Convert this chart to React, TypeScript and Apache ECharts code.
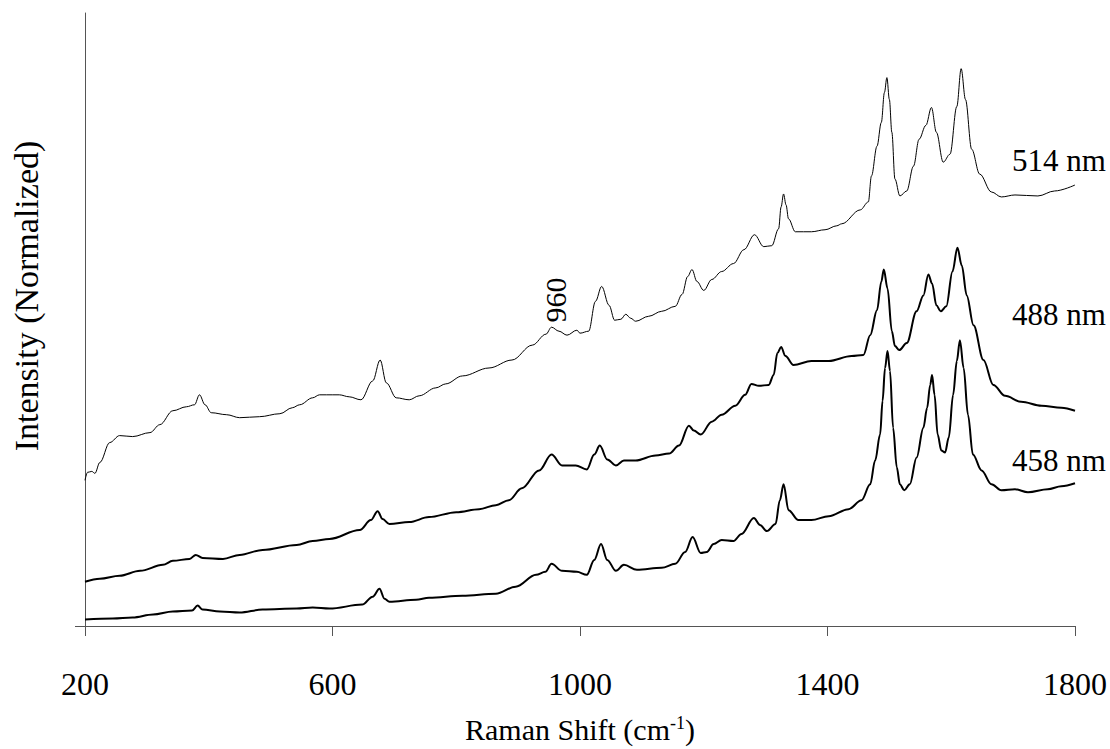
import React, { useEffect, useRef } from "react";
import * as echarts from "echarts";

// Raman shift (cm-1) and normalized intensity (arbitrary units)
const shift514 = [200, 204, 211, 216, 224, 240, 256, 277, 305, 321, 342, 364, 377, 385, 394, 404, 429, 450, 482, 515, 535, 547, 568, 579, 590, 611, 627, 646, 665, 677, 687, 703, 724, 740, 767, 783, 810, 853, 890, 923, 945, 954, 966, 979, 995, 1000, 1014, 1025, 1035, 1047, 1056, 1066, 1074, 1082, 1090, 1111, 1132, 1154, 1165, 1174, 1181, 1189, 1200, 1213, 1229, 1248, 1265, 1282, 1297, 1310, 1321, 1325, 1329, 1333, 1337, 1348, 1374, 1396, 1415, 1423, 1453, 1466, 1471, 1480, 1487, 1492, 1496, 1500, 1504, 1509, 1517, 1528, 1539, 1548, 1559, 1568, 1576, 1587, 1598, 1609, 1616, 1623, 1633, 1646, 1665, 1681, 1703, 1740, 1767, 1800];
const int514 = [145, 153, 154, 152, 163, 183, 190, 189, 193, 201, 215, 219, 221, 231, 221, 213, 211, 208, 209, 212, 218, 221, 228, 231, 231, 231, 229, 226, 245, 266, 243, 228, 226, 230, 238, 242, 250, 258, 266, 281, 292, 299, 295, 291, 296, 293, 295, 325, 340, 321, 306, 307, 312, 308, 305, 310, 315, 320, 332, 350, 357, 345, 336, 347, 355, 363, 377, 392, 380, 381, 398, 420, 433, 422, 408, 395, 395, 397, 401, 403, 417, 425, 451, 481, 505, 535, 550, 528, 495, 448, 431, 436, 461, 488, 502, 520, 495, 465, 473, 521, 559, 528, 478, 453, 435, 430, 432, 431, 436, 442];

const shift488 = [200, 224, 256, 289, 326, 342, 369, 379, 390, 423, 450, 487, 542, 568, 595, 644, 662, 673, 681, 692, 724, 756, 800, 837, 864, 885, 906, 934, 954, 971, 993, 1011, 1023, 1032, 1044, 1058, 1071, 1090, 1122, 1144, 1160, 1176, 1184, 1195, 1213, 1229, 1251, 1267, 1277, 1289, 1305, 1313, 1319, 1325, 1332, 1345, 1374, 1402, 1439, 1458, 1469, 1480, 1487, 1491, 1497, 1504, 1509, 1516, 1528, 1544, 1555, 1563, 1569, 1576, 1583, 1592, 1602, 1610, 1617, 1625, 1636, 1652, 1668, 1687, 1713, 1746, 1778, 1800];
const int488 = [43, 46, 49, 54, 60, 64, 66, 70, 67, 66, 70, 75, 80, 84, 86, 95, 105, 114, 106, 101, 103, 108, 113, 116, 120, 125, 137, 155, 171, 160, 160, 156, 171, 180, 166, 160, 165, 165, 170, 172, 180, 200, 195, 191, 204, 211, 220, 231, 242, 240, 241, 251, 273, 279, 270, 261, 265, 265, 270, 271, 291, 316, 345, 357, 338, 295, 280, 276, 283, 315, 331, 352, 343, 321, 315, 320, 355, 379, 361, 331, 301, 266, 241, 230, 224, 220, 218, 215];

const shift458 = [200, 245, 277, 310, 342, 373, 382, 390, 418, 450, 487, 542, 568, 595, 648, 665, 676, 684, 692, 735, 756, 810, 864, 896, 929, 944, 954, 971, 995, 1011, 1023, 1034, 1044, 1058, 1071, 1092, 1132, 1154, 1170, 1182, 1195, 1205, 1216, 1229, 1248, 1261, 1281, 1291, 1302, 1316, 1323, 1329, 1337, 1353, 1374, 1402, 1434, 1455, 1469, 1477, 1485, 1489, 1493, 1497, 1501, 1506, 1512, 1517, 1524, 1533, 1544, 1555, 1561, 1566, 1569, 1573, 1578, 1584, 1590, 1596, 1603, 1609, 1614, 1620, 1627, 1635, 1649, 1665, 1681, 1703, 1724, 1756, 1778, 1800];
const int458 = [5, 6, 7, 10, 13, 14, 19, 15, 13, 12, 15, 16, 17, 16, 20, 28, 36, 26, 23, 25, 27, 29, 31, 38, 50, 53, 61, 54, 53, 50, 65, 81, 65, 54, 60, 55, 57, 61, 73, 88, 72, 73, 81, 85, 84, 91, 107, 100, 94, 101, 125, 141, 115, 105, 105, 109, 116, 125, 141, 165, 191, 225, 258, 275, 255, 198, 158, 141, 135, 141, 168, 198, 218, 241, 251, 231, 191, 175, 173, 188, 231, 265, 286, 258, 211, 171, 155, 141, 135, 136, 133, 136, 139, 142];

const xTicks = [200, 600, 1000, 1400, 1800];
const seriesNames = ["514 nm", "488 nm", "458 nm"];
const peakLabel = "960";

const FONT = "'Liberation Serif', 'Times New Roman', serif";

function pairs(xs: number[], ys: number[]) {
  return xs.map((x, i) => [x, ys[i]]);
}

export default function App() {
  const ref = useRef<HTMLDivElement>(null);
  useEffect(() => {
    if (!ref.current) return;
    const chart = echarts.init(ref.current, undefined, { renderer: "svg" });
    const axisColor = "#555";
    const textEl = (t: string, x: number, y: number, size: number, extra: any = {}) => ({
      type: "text",
      x,
      y,
      silent: true,
      ...extra,
      style: {
        text: t,
        fontFamily: FONT,
        fontSize: size,
        fill: "#000",
        ...(extra.style || {}),
      },
    });
    const lineSeries = (i: number, xs: number[], ys: number[], width: number) => ({
      name: seriesNames[i],
      type: "line",
      data: pairs(xs, ys),
      showSymbol: false,
      smooth: 0.35,
      smoothMonotone: "x",
      lineStyle: { color: "#000", width },
    });
    chart.setOption({
      animation: false,
      backgroundColor: "#fff",
      grid: { left: 85, right: 33, top: 13, bottom: 119.5, containLabel: false },
      xAxis: {
        type: "value",
        min: xTicks[0],
        max: xTicks[xTicks.length - 1],
        interval: 400,
        name: "Raman Shift (cm{sup|-1})",
        nameLocation: "middle",
        nameGap: 88,
        nameTextStyle: {
          fontFamily: FONT,
          fontSize: 30,
          color: "#000",
          rich: { sup: { fontFamily: FONT, fontSize: 18, color: "#000", verticalAlign: "top" } },
        },
        axisLine: { show: true, onZero: false, lineStyle: { color: axisColor, width: 1 } },
        axisTick: { show: true, inside: false, length: 10, lineStyle: { color: axisColor } },
        axisLabel: {
          fontFamily: FONT,
          fontSize: 32,
          color: "#000",
          margin: 42,
          formatter: (v: number) => String(v),
        },
        splitLine: { show: false },
      },
      yAxis: {
        type: "value",
        min: -1.5,
        max: 615,
        axisLine: { show: true, onZero: false, lineStyle: { color: axisColor, width: 1 } },
        axisTick: { show: true, inside: false, length: 10, customValues: [-1.5], lineStyle: { color: axisColor } },
        axisLabel: { show: false },
        splitLine: { show: false },
      },
      series: [
        lineSeries(0, shift514, int514, 1),
        lineSeries(1, shift488, int488, 2),
        lineSeries(2, shift458, int458, 2),
      ],
      graphic: [
        textEl("Intensity (Normalized)", 26, 296, 34, { rotation: Math.PI / 2, style: { textAlign: "center", textVerticalAlign: "middle" } }),
        textEl(seriesNames[0], 1012, 160, 31, { style: { textAlign: "left", textVerticalAlign: "middle" } }),
        textEl(seriesNames[1], 1012, 314, 31, { style: { textAlign: "left", textVerticalAlign: "middle" } }),
        textEl(seriesNames[2], 1012, 460, 31, { style: { textAlign: "left", textVerticalAlign: "middle" } }),
        textEl(peakLabel, 555, 300, 30, { rotation: Math.PI / 2, style: { textAlign: "center", textVerticalAlign: "middle" } }),
      ],
    });
    return () => chart.dispose();
  }, []);
  return <div ref={ref} style={{ position: "fixed", left: 0, top: 0, width: 1110, height: 749 }} />;
}
